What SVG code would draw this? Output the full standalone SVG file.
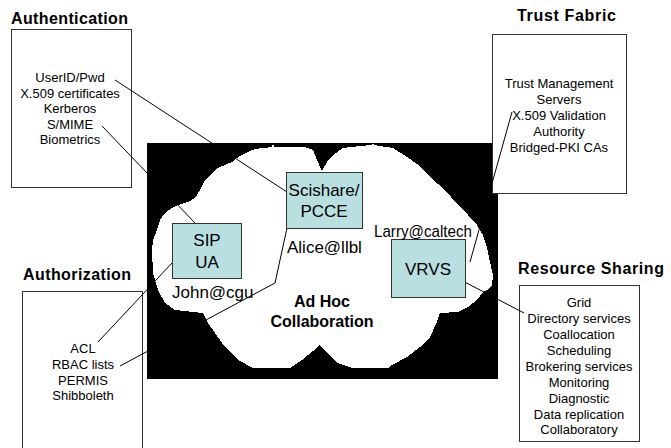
<svg xmlns="http://www.w3.org/2000/svg" width="671" height="448" viewBox="0 0 671 448">
<style>
.t{font-family:"Liberation Sans",Arial,sans-serif;font-weight:bold;font-size:16px;fill:#000}
.s{font-family:"Liberation Sans",Arial,sans-serif;font-size:13px;fill:#000;text-anchor:middle}
.m{font-family:"Liberation Sans",Arial,sans-serif;font-size:17px;fill:#000}
.box{fill:#fff;stroke:#333;stroke-width:1}
.node{fill:#b9dfe1;stroke:#333;stroke-width:1}
.c{stroke:#000;stroke-width:1;fill:none}
</style>
<rect width="671" height="448" fill="#fff"/>
<g id="adhoc">
<rect x="147" y="143" width="351" height="236" fill="#000"/>
<polygon fill="#fff" shape-rendering="crispEdges" points="152,250 153,240 157,230 160,220 165,213 172,208 178,205 188,202 195,198 200,190 205,180 212,173 218,168 225,165 232,162 237,158 242,155 248,152 255,149 272,147 273,143 274,147 290,147 305,147 313,150 317,160 322,171 327,162 333,155 343,148 360,146 372,145 373,143 374,145 393,148 407,157 420,166 430,177 445,190 457,204 468,215 477,225 483,235 487,248 490,262 493,275 492,285 487,290 483,292 477,300 468,307 458,312 440,313 437,322 430,337 420,347 407,357 392,365 388,368 353,368 337,363 327,353 320,345 313,351 302,360 290,368 253,368 238,360 222,343 208,323 203,313 175,310 165,303 158,290 153,273"/>
<text class="t" x="322" y="307" text-anchor="middle" font-size="17">Ad Hoc</text>
<text class="t" x="322" y="327" text-anchor="middle" font-size="17">Collaboration</text>
</g>
<g id="authentication">
<text class="t" x="11" y="24" textLength="117">Authentication</text>
<rect class="box" x="11.5" y="29.5" width="120" height="158"/>
<text class="s" x="70" y="82">UserID/Pwd</text>
<text class="s" x="70" y="97.5">X.509 certificates</text>
<text class="s" x="70" y="113">Kerberos</text>
<text class="s" x="70" y="128.5">S/MIME</text>
<text class="s" x="70" y="144">Biometrics</text>
</g>
<g id="trust">
<text class="t" x="517" y="21" textLength="99">Trust Fabric</text>
<rect class="box" x="492.5" y="34.5" width="134" height="159"/>
<text class="s" x="559" y="88">Trust Management</text>
<text class="s" x="559" y="104">Servers</text>
<text class="s" x="559" y="120">X.509 Validation</text>
<text class="s" x="559" y="136">Authority</text>
<text class="s" x="559" y="152">Bridged-PKI CAs</text>
</g>
<g id="authorization">
<text class="t" x="23" y="280" textLength="108">Authorization</text>
<rect class="box" x="22.5" y="291.5" width="120" height="170"/>
<text class="s" x="83" y="353">ACL</text>
<text class="s" x="83" y="368.5">RBAC lists</text>
<text class="s" x="83" y="384.5">PERMIS</text>
<text class="s" x="83" y="400">Shibboleth</text>
</g>
<g id="resource">
<text class="t" x="518" y="274" textLength="146">Resource Sharing</text>
<rect class="box" x="519.5" y="285.5" width="120" height="156"/>
<text class="s" x="579" y="307">Grid</text>
<text class="s" x="579" y="323">Directory services</text>
<text class="s" x="579" y="339">Coallocation</text>
<text class="s" x="579" y="355">Scheduling</text>
<text class="s" x="579" y="371">Brokering services</text>
<text class="s" x="579" y="386.5">Monitoring</text>
<text class="s" x="579" y="402.5">Diagnostic</text>
<text class="s" x="579" y="418.5">Data replication</text>
<text class="s" x="579" y="434">Collaboratory</text>
</g>
<g id="connectors">
<line class="c" x1="115" y1="80" x2="287" y2="192"/>
<line class="c" x1="102" y1="126" x2="195" y2="223"/>
<line class="c" x1="98" y1="342" x2="172" y2="263"/>
<polyline class="c" points="120,366 275,283 287,228"/>
<line class="c" x1="512" y1="112" x2="470" y2="262"/>
<line class="c" x1="457" y1="278" x2="524" y2="313"/>
</g>
<g id="scishare">
<rect class="node" x="286.5" y="172.5" width="76" height="56"/>
<text class="m" x="324" y="196" text-anchor="middle">Scishare/</text>
<text class="m" x="324" y="217" text-anchor="middle">PCCE</text>
<text class="m" x="287" y="253">Alice@llbl</text>
</g>
<g id="sipua">
<rect class="node" x="172.5" y="223.5" width="69" height="55"/>
<text class="m" x="207" y="246" text-anchor="middle">SIP</text>
<text class="m" x="207" y="268" text-anchor="middle">UA</text>
<text class="m" x="172" y="298">John@cgu</text>
</g>
<g id="vrvs">
<rect class="node" x="391.5" y="239.5" width="74" height="58"/>
<text class="m" x="428" y="275" text-anchor="middle">VRVS</text>
<text class="m" x="374" y="237" textLength="98" lengthAdjust="spacingAndGlyphs" font-size="16">Larry@caltech</text>
</g>
</svg>
